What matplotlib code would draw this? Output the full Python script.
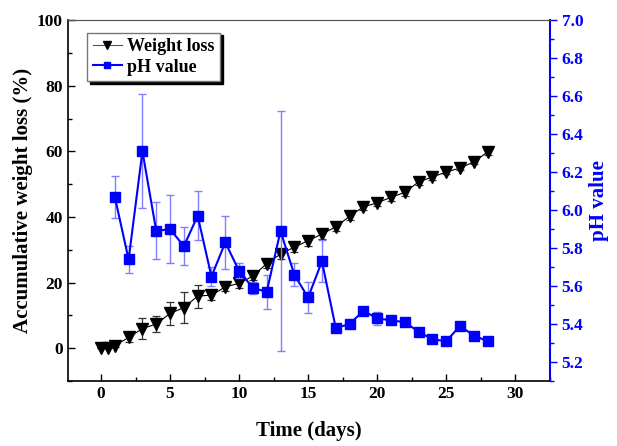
import numpy as np
import matplotlib
matplotlib.use('Agg')
import matplotlib.pyplot as plt
from matplotlib.ticker import MultipleLocator

# weight loss data (days 0, 0.5, 1..28)
days_wl = [0, 0.5, 1, 2, 3, 4, 5, 6, 7, 8, 9, 10, 11, 12, 13, 14, 15, 16, 17, 18,
           19, 20, 21, 22, 23, 24, 25, 26, 27, 28]
weight_loss = [0, 0, 0.8, 3.3, 6.0, 7.4, 10.6, 12.4, 15.9, 16.2, 18.7, 19.8, 22.0, 25.8,
               28.7, 30.8, 32.8, 34.8, 37.0, 40.2, 43.1, 44.3, 46.0, 47.5, 50.7, 52.2,
               53.7, 54.9, 56.8, 59.8]
weight_err = [0, 0, 0.5, 1.5, 3.2, 2.3, 3.5, 4.6, 3.5, 1.5, 1.2, 1.5, 1.3, 1.2, 1.5,
              1.5, 1.5, 1.5, 1.2, 1.0, 1.0, 1.0, 1.0, 1.0, 1.0, 0.8, 0.6, 0.6, 0.8, 1.0]

# pH data (days 1..28)
days_ph = list(range(1, 29))
ph_value = [6.07, 5.74, 6.31, 5.89, 5.90, 5.81, 5.97, 5.65, 5.83, 5.68, 5.59, 5.57,
            5.89, 5.66, 5.54, 5.73, 5.38, 5.40, 5.47, 5.43, 5.42, 5.41, 5.36, 5.32,
            5.31, 5.39, 5.34, 5.31]
ph_err = [0.11, 0.07, 0.30, 0.15, 0.18, 0.10, 0.13, 0.05, 0.14, 0.04, 0.03, 0.09,
          0.63, 0.06, 0.08, 0.11, 0.015, 0.01, 0.01, 0.033, 0.01, 0.01, 0.01, 0.01,
          0.01, 0.01, 0.01, 0.01]

plt.rcParams['font.family'] = ['Liberation Serif', 'DejaVu Serif']
plt.rcParams['font.weight'] = 'bold'

fig = plt.figure(figsize=(6.17, 4.46), dpi=100)
ax = fig.add_axes([0.110, 0.1455, 0.781, 0.8095])
ax2 = ax.twinx()

blue = '#0000ff'

# weight loss
wl = ax.errorbar(days_wl, weight_loss, yerr=weight_err, color='black', ecolor='#333333',
                 elinewidth=0.9, capsize=3, capthick=0.9, marker='v', markersize=8.5,
                 linewidth=0.8, zorder=3)

# pH value
ph = ax2.errorbar(days_ph, ph_value, yerr=ph_err, color=blue, ecolor='#7f7fff',
                  elinewidth=1.0, capsize=3, capthick=1.0, marker='s', markersize=6.5,
                  linewidth=1.5, zorder=3)

ax.set_xlim(-2.4, 32.5)
ax.set_ylim(-10, 100)
ax2.set_ylim(5.1, 7.0)

ax.xaxis.set_major_locator(MultipleLocator(5))
ax.xaxis.set_minor_locator(MultipleLocator(2.5))
ax.yaxis.set_major_locator(MultipleLocator(20))
ax.yaxis.set_minor_locator(MultipleLocator(10))
ax2.yaxis.set_major_locator(MultipleLocator(0.2))
ax2.yaxis.set_minor_locator(MultipleLocator(0.1))
ax2.yaxis.set_major_formatter(matplotlib.ticker.FormatStrFormatter('%.1f'))

ax.tick_params(axis='both', which='major', direction='in', length=5, width=1,
               labelsize=12.5, top=False)
ax.tick_params(axis='both', which='minor', direction='in', length=3, width=1, top=False)
ax.tick_params(axis='y', which='both', right=False)
ax2.tick_params(axis='y', which='major', direction='out', length=5, width=1,
                colors=blue, labelsize=12.5)
ax2.tick_params(axis='y', which='minor', direction='out', length=3, width=1, colors=blue)

for lab in ax.get_xticklabels() + ax.get_yticklabels() + ax2.get_yticklabels():
    lab.set_fontweight('bold')

for sp in ['left', 'bottom']:
    ax.spines[sp].set_linewidth(1.2)
ax.spines['top'].set_color('#555555')
ax2.spines['top'].set_color('#555555')
ax2.spines['right'].set_color(blue)
ax2.spines['right'].set_linewidth(1.5)
ax2.spines['left'].set_visible(False)
ax2.spines['bottom'].set_visible(False)
ax.spines['right'].set_visible(False)

ax.set_xlabel('Time (days)', fontsize=15, fontweight='bold', labelpad=14)
ax.set_ylabel('Accumulative weight loss (%)', fontsize=15, fontweight='bold', labelpad=3)
ax2.set_ylabel('pH value', fontsize=15, fontweight='bold', color=blue, labelpad=4)

leg = ax2.legend([wl[0], ph[0]], ['Weight loss', 'pH value'], loc='upper left',
                 bbox_to_anchor=(0.022, 0.99),
                 prop={'weight': 'bold', 'size': 13}, fancybox=False,
                 edgecolor='#777777', framealpha=1, markerscale=0.6,
                 handlelength=1.6, handletextpad=0.3, borderpad=0.3,
                 labelspacing=0.2, shadow={'color': 'black', 'alpha': 1})
leg.get_frame().set_linewidth(1.0)
leg.get_lines()[0].set_color('#555555')
leg.get_lines()[0].set_markerfacecolor('black')
leg.get_lines()[0].set_markeredgecolor('black')

fig.savefig('out.png', dpi=100)
